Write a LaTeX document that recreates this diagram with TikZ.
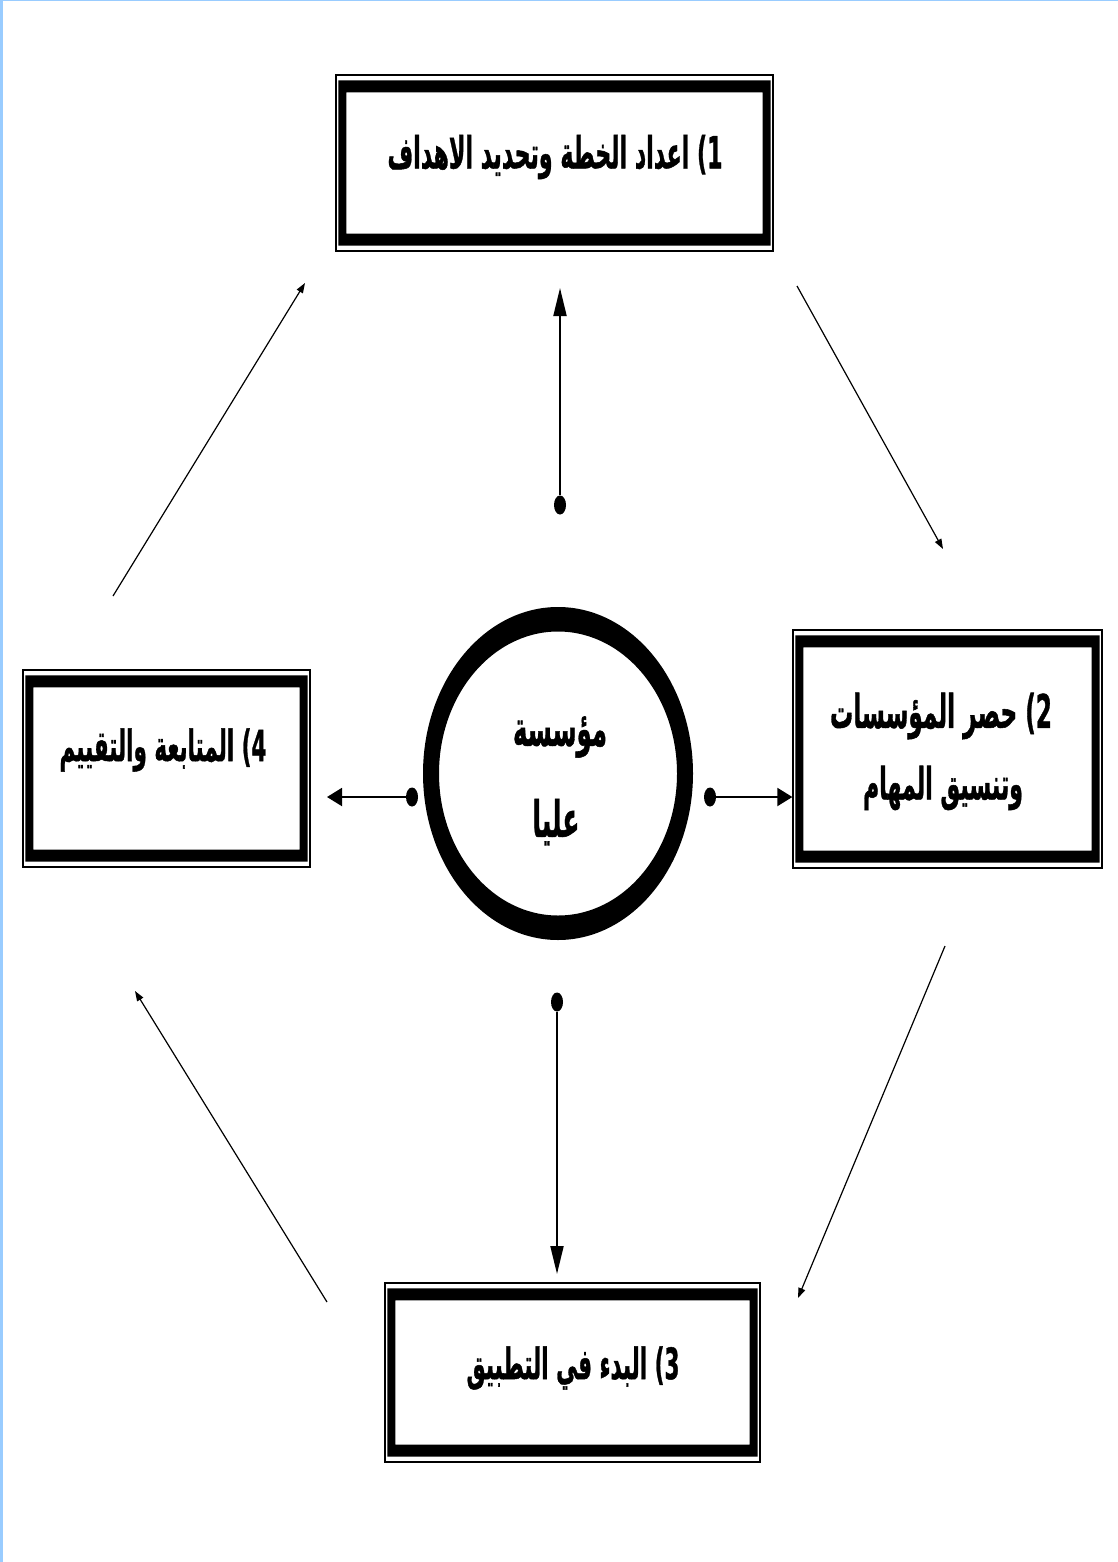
\documentclass[tikz,border=0pt]{standalone}
\usepackage{fontspec}
\usepackage{graphicx}
\usetikzlibrary{arrows.meta,shapes.geometric}
\TeXXeTstate=1
\newfontfamily\arabicfont[Script=Arabic,FakeBold=1.2]{DejaVu Sans}
\definecolor{edgeblue}{RGB}{153,204,255}
% a line of text set to a given width, stretched vertically
\newcommand\artxt[2]{\scalebox{1}[2.0]{\resizebox{#1}{!}{\arabicfont\bfseries #2}}}
\begin{document}
\begin{tikzpicture}[x=1pt,y=-1pt,
  stagebox/.style={rectangle,draw=black,line width=1.3pt,inner sep=0pt,fill=white},
  hub/.style={ellipse,inner sep=0pt,minimum width=270pt,minimum height=333pt},
  knob/.style={ellipse,fill=black,inner sep=0pt,minimum width=12pt,minimum height=19pt},
  label/.style={inner sep=0pt,align=center},
  vstem/.style={line width=2pt,-{Triangle[length=28pt,width=13pt]}},
  hstem/.style={line width=2pt,-{Triangle[length=15pt,width=18pt]}},
  cycle/.style={line width=1.2pt,-{Triangle[length=10pt,width=7pt]}}
]
% page and thin blue edges
\fill[white] (0,0) rectangle (1118,1562);
\useasboundingbox (0,0) rectangle (1118,1562);
\fill[edgeblue] (0,0) rectangle (3,1562);
\fill[edgeblue] (0,0) rectangle (1118,1.5);

% thick inner band of a framed box: sides 8pt, top/bottom 12pt
\newcommand\band[1]{%
  \fill[black,even odd rule]
    ([shift={(3,6)}]#1.north west) rectangle ([shift={(-3,-6)}]#1.south east)
    ([shift={(11,18)}]#1.north west) rectangle ([shift={(-11,-18)}]#1.south east);}

% stage boxes
\node[stagebox,minimum width=437pt,minimum height=176pt] (s1) at (554.5,163) {};
\node[stagebox,minimum width=309pt,minimum height=238pt] (s2) at (947.5,749) {};
\node[stagebox,minimum width=375pt,minimum height=179pt] (s3) at (572.5,1372.5) {};
\node[stagebox,minimum width=287pt,minimum height=197pt] (s4) at (166.5,768.5) {};
\band{s1}\band{s2}\band{s3}\band{s4}

% box labels
\node[label] (t1) at (555,157) {\artxt{335pt}{\beginR 1) اعداد الخطة وتحديد الاهداف\endR}};
\node[label] (t2a) at (941,716) {\artxt{222pt}{\beginR 2) حصر المؤسسات\endR}};
\node[label] (t2b) at (943,788) {\artxt{160pt}{\beginR وتنسيق المهام\endR}};
\node[label] (t3) at (573,1368) {\artxt{213pt}{\beginR 3) البدء في التطبيق\endR}};
\node[label] (t4) at (163,750) {\artxt{207pt}{\beginR 4) المتابعة والتقييم\endR}};

% central ring
\node[hub] (c) at (558,773.5) {};
\fill[black,even odd rule] (c.center) ellipse [x radius=135pt,y radius=166.5pt]
                           (c.center) ellipse [x radius=119pt,y radius=142pt];
\node[label] (c1) at (560,737) {\artxt{94pt}{\beginR مؤسسة\endR}};
\node[label] (c2) at (556,822) {\artxt{47pt}{\beginR عليا\endR}};

% spokes from the ring
\node[knob] (kt) at (560,505) {};
\node[knob] (kb) at (557,1002) {};
\node[knob] (kl) at (412,797) {};
\node[knob] (kr) at (710,797) {};
\coordinate (et) at (560,288);
\coordinate (eb) at (557,1274);
\coordinate (el) at (327,797);
\draw[vstem] (kt) -- (et);
\draw[vstem] (kb) -- (eb);
\draw[hstem] (kl) -- (el);
\draw[hstem] (kr) -- (kr -| s2.west);

% cycle arrows between stages
\coordinate (a1) at (113,596);  \coordinate (b1) at (305,283);
\coordinate (a2) at (797,286);  \coordinate (b2) at (943,549);
\coordinate (a3) at (945,946);  \coordinate (b3) at (798,1298);
\coordinate (a4) at (327,1302); \coordinate (b4) at (135,991);
\draw[cycle] (a1) -- (b1);
\draw[cycle] (a2) -- (b2);
\draw[cycle] (a3) -- (b3);
\draw[cycle] (a4) -- (b4);
\end{tikzpicture}
\end{document}
